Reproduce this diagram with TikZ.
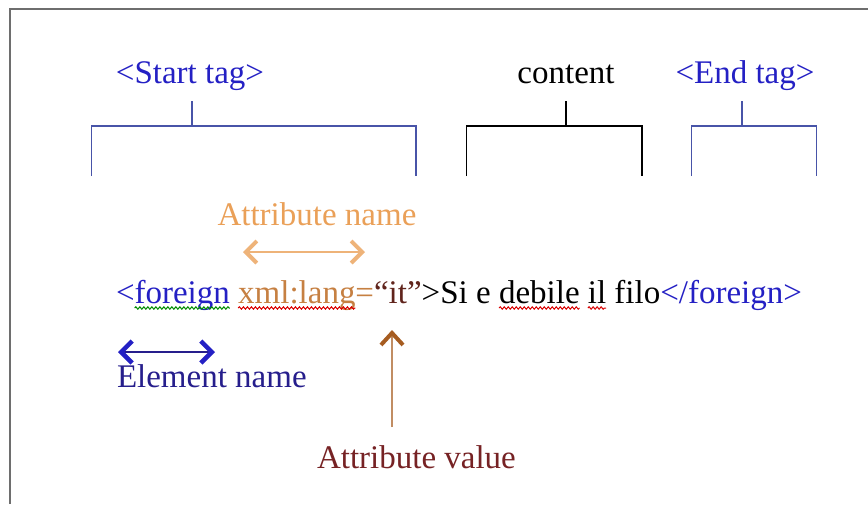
\documentclass[tikz,border=0pt]{standalone}
\usepackage{fontspec}
\setmainfont{Liberation Serif}
\usetikzlibrary{arrows.meta,decorations.pathmorphing}

\definecolor{TagBlue}{RGB}{36,32,196}
\definecolor{ElemNavy}{RGB}{38,30,140}
\definecolor{BracketBlue}{RGB}{72,84,168}
\definecolor{AttrOrange}{RGB}{234,160,88}
\definecolor{AttrText}{RGB}{198,128,66}
\definecolor{ValText}{RGB}{96,36,28}
\definecolor{ValueBrown}{RGB}{118,34,36}
\definecolor{ArrowBrown}{RGB}{166,92,32}
\definecolor{FrameGray}{RGB}{110,110,110}

\begin{document}
\begin{tikzpicture}[x=1pt,y=-1pt,
	every node/.append style={font=\fontsize{33}{40}\selectfont},
	word/.style={anchor=base west,inner sep=0pt,outer sep=0pt},
	tagtext/.style={anchor=base,inner sep=0pt},
	bracket/.style={line width=1.6pt},
	wavy/.style={decorate,decoration={snake,amplitude=1.2pt,segment length=4pt},line width=1pt},
	namearrow/.style={AttrOrange!80!white,line width=1.6pt,
		{Straight Barb[length=11pt,width=22pt,line width=4pt]}-{Straight Barb[length=11pt,width=22pt,line width=4pt]}},
	elemarrow/.style={ElemNavy,line width=1.6pt,
		{Straight Barb[length=11pt,width=22pt,line width=4.5pt,color=TagBlue]}-{Straight Barb[length=11pt,width=22pt,line width=4.5pt,color=TagBlue]}},
	valarrow/.style={ArrowBrown!70!white,line width=1.4pt,
		-{Straight Barb[length=12pt,width=22pt,line width=4pt,color=ArrowBrown]}}]

	\useasboundingbox (0,0) rectangle (868,504);

	% Frame

	\draw [FrameGray,line width=2pt] (9.5,504) -- (9.5,9) -- (868,9);

	% Tag labels

	\node [tagtext,text=TagBlue] (starttag) at (190,83) {<Start tag>};
	\node [tagtext] (content) at (566,83) {content};
	\node [tagtext,text=TagBlue] (endtag) at (745,83) {<End tag>};

	% Brackets

	\draw [bracket,BracketBlue] (91.5,176) |- (416,126) -- (416,176);
	\draw [bracket,BracketBlue] (192,101) -- (192,126);
	\draw [bracket] (466.5,176) |- (642,126) -- (642,176);
	\draw [bracket] (566,101) -- (566,126);
	\draw [bracket,BracketBlue] (691.5,176) |- (816.5,126) -- (816.5,176);
	\draw [bracket,BracketBlue] (742,101) -- (742,126);

	% Element line

	\node [word,text=TagBlue] (lt) at (116,303) {<};
	\node [word,text=TagBlue] (elname) at (lt.base east) {foreign};
	\node [word,text=AttrText] (attr) at ([xshift=8.25pt]elname.base east) {xml:lang};
	\node [word,text=AttrText] (eq) at (attr.base east) {=};
	\node [word,text=ValText] (val) at (eq.base east) {“it”};
	\node [word] (gt) at (val.base east) {>Si e};
	\node [word] (debile) at ([xshift=8.25pt]gt.base east) {debile};
	\node [word] (il) at ([xshift=8.25pt]debile.base east) {il};
	\node [word] (filo) at ([xshift=8.25pt]il.base east) {filo};
	\node [word,text=TagBlue] (close) at (filo.base east) {</foreign>};

	% Spelling marks

	\draw [wavy,green!55!black] ([yshift=-5pt]elname.base west) -- ([yshift=-5pt]elname.base east);
	\draw [wavy,red!85!black] ([yshift=-5pt]attr.base west) -- ([yshift=-5pt]attr.base east);
	\draw [wavy,red!85!black] ([yshift=-5pt]debile.base west) -- ([yshift=-5pt]debile.base east);
	\draw [wavy,red!85!black] ([yshift=-5pt]il.base west) -- ([yshift=-5pt]il.base east);

	% Callouts

	\node [tagtext,text=AttrOrange] (attrname) at (317,225) {Attribute name};
	\coordinate (namel) at (243,252);
	\coordinate (namer) at (365,252);
	\draw [namearrow] (namel) -- (namer);

	\node [word,text=ElemNavy] (elemname) at (117,387) {Element name};
	\coordinate (eleml) at (118,352);
	\coordinate (elemr) at (215,352);
	\draw [elemarrow] (eleml) -- (elemr);

	\node [word,text=ValueBrown] (attrvalue) at (317,468) {Attribute value};
	\coordinate (valfoot) at (392,427);
	\coordinate (valtip) at (392,330);
	\draw [valarrow] (valfoot) -- (valtip);

\end{tikzpicture}
\end{document}
